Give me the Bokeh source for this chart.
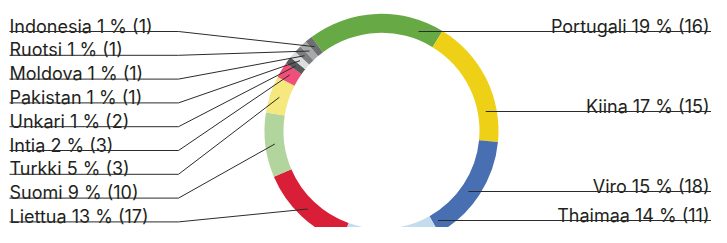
import math
from bokeh.plotting import figure
from bokeh.models import Range1d, ColumnDataSource
from bokeh.core.properties import value
from bokeh.embed import file_html
from bokeh.resources import INLINE

# ---- data (clockwise from top) ----
countries = ["Portugali", "Kiina", "Viro", "Thaimaa", "Liettua", "Suomi", "Turkki",
             "Intia", "Unkari", "Pakistan", "Moldova", "Ruotsi", "Indonesia"]
pct_labels = [19, 17, 15, 14, 13, 9, 5, 2, 1, 1, 1, 1, 1]
counts = [16, 15, 18, 11, 17, 10, 3, 3, 2, 1, 1, 1, 1]
shares = [18.9, 17.8, 15.3, 13.6, 13.1, 8.9, 5.1, 2.2, 1.0, 1.0, 1.0, 1.0, 1.0]
colors = ["#67a944", "#eed117", "#476fb1", "#c3ddef", "#d91f38", "#b2d49d", "#f4e87e",
          "#f04f79", "#58595b", "#dcddde", "#7d7e80", "#a7a8aa", "#6e6f71"]
right_side = ["Portugali", "Kiina", "Viro", "Thaimaa"]

W, H = 711, 227


def py(y):  # pixel y from top of plot -> data y
    return H - y


p = figure(width=W, height=H, output_backend="svg", toolbar_location=None,
           x_range=Range1d(0, W), y_range=Range1d(0, H), min_border=0)
p.axis.visible = False
p.grid.visible = False
p.outline_line_color = None
p.background_fill_color = None
p.border_fill_color = None

cx, cy = 381.0, py(130.3)
r_out, r_in = 117.0, 98.0
start0 = 126.7  # math angle (deg) where the first slice starts; slices go clockwise

total = sum(shares)
starts, ends, mids = [], [], []
acc = 0.0
for s in shares:
    a0 = start0 - acc / total * 360.0
    a1 = start0 - (acc + s) / total * 360.0
    starts.append(math.radians(a1))
    ends.append(math.radians(a0))
    mids.append(math.radians((a0 + a1) / 2))
    acc += s

src = ColumnDataSource(dict(start=starts, end=ends, color=colors, name=countries))
p.annular_wedge(x=cx, y=cy, inner_radius=r_in, outer_radius=r_out,
                start_angle="start", end_angle="end", direction="anticlock",
                fill_color="color", line_color=None, source=src)

font = value("Inter")
fs = "18px"
txt_color = "#231f20"
line_color = "#2b2b2b"

# left labels: top row is Indonesia
left = [c for c in countries if c not in right_side][::-1]
lx, ly, ltext = [], [], []
seg_xs, seg_ys = [], []
r_mid = 107.5
for k, c in enumerate(left):
    i = countries.index(c)
    base = 25.5 + k * 23.8
    under = base + 5.5
    lx.append(9)
    ly.append(py(base))
    ltext.append(f"{c} {pct_labels[i]} % ({counts[i]})")
    ex = cx + r_mid * math.cos(mids[i])
    ey = cy + r_mid * math.sin(mids[i])
    seg_xs.append([9, 178, ex])
    seg_ys.append([py(under), py(under), ey])

p.text(x=lx, y=ly, text=ltext, text_font=font, text_font_size=fs,
       text_color=txt_color, text_align="left", text_baseline="alphabetic")

# right labels
right_under = {"Portugali": 31.0, "Kiina": 111.0, "Viro": 191.0, "Thaimaa": 220.0}
rx, ry, rtext = [], [], []
r_line = 106.0
for c in right_side:
    i = countries.index(c)
    under = right_under[c]
    rx.append(709)
    ry.append(py(under - 5.5))
    rtext.append(f"{c} {pct_labels[i]} % ({counts[i]})")
    dy = py(under) - cy
    sx = cx + math.sqrt(max(r_line ** 2 - dy ** 2, 0))
    seg_xs.append([sx, W])
    seg_ys.append([py(under), py(under)])

p.text(x=rx, y=ry, text=rtext, text_font=font, text_font_size=fs,
       text_color=txt_color, text_align="right", text_baseline="alphabetic")

p.multi_line(xs=seg_xs, ys=seg_ys, line_color=line_color, line_width=1)

open("out.html", "w").write(file_html(p, INLINE))
